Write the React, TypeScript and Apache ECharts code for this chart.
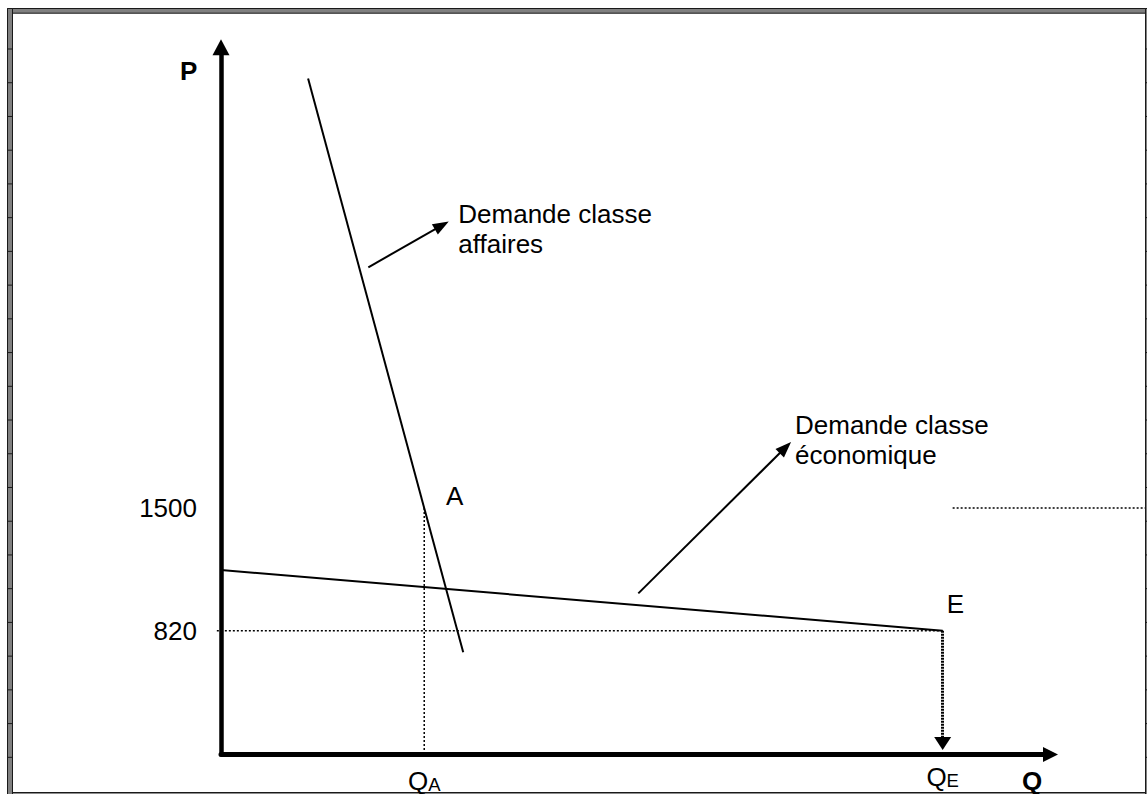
import React, { useEffect, useRef } from 'react';
import * as echarts from 'echarts';

// ---- Data (schematic units: Q on 0..100, P in price units) ----
const qTickA = [24.5]; // Q_A
const qTickE = [87]; // Q_E
const pTicks = [820, 1500];
const businessDemand = [[10.5, 3880], [29.2, 700]];
const economyDemand = [[0, 1156], [87, 820]];
const guideA = [[24.5, 1500], [24.5, 134]];
const guide820 = [[-0.5, 820], [87, 820]];
const guideRight = [[88.2, 1500], [111.4, 1500]];
const arrowBusiness = [[17.76, 2834], [26.62, 3066]];
const arrowEconomy = [[50.31, 1027], [68.04, 1835]];
const arrowE = [[87, 820], [87, 195]];
const labelBusiness = 'Demande classe\naffaires';
const labelEconomy = 'Demande classe\néconomique';

const P_MIN = 134;
const P_MAX = 4053;

const FONT = '"Liberation Sans", Arial, sans-serif';
const FS = 26;

function frameElements() {
  const els: any[] = [];
  const grey = '#808080';
  const dark = '#1a1a1a';
  els.push({ type: 'rect', shape: { x: 7.5, y: 8.5, width: 1145, height: 4.7 }, style: { fill: grey, stroke: dark, lineWidth: 1 }, silent: true });
  els.push({ type: 'rect', shape: { x: 7.5, y: 8.5, width: 5, height: 790 }, style: { fill: grey, stroke: dark, lineWidth: 1 }, silent: true });
  els.push({ type: 'rect', shape: { x: 1145.5, y: 8.5, width: 5, height: 790 }, style: { fill: grey, stroke: dark, lineWidth: 1 }, silent: true });
  els.push({ type: 'line', shape: { x1: 12.5, y1: 792.7, x2: 1145.5, y2: 792.7 }, style: { stroke: dark, lineWidth: 1.5 }, silent: true });
  for (let k = 0; k < 22; k++) {
    const y = 49 + 33.73 * k;
    els.push({ type: 'line', shape: { x1: 7.5, y1: y, x2: 12.5, y2: y }, style: { stroke: dark, lineWidth: 1 }, silent: true });
    els.push({ type: 'line', shape: { x1: 1145.5, y1: y, x2: 1147, y2: y }, style: { stroke: dark, lineWidth: 1 }, silent: true });
  }
  return els;
}

function txt(text: string, x: number, y: number, opts: any = {}) {
  return {
    type: 'text',
    x,
    y,
    silent: true,
    style: {
      text,
      fill: '#000',
      font: `${opts.bold ? 'bold ' : ''}${FS}px ${FONT}`,
      align: 'left',
      textAlign: 'left',
      verticalAlign: opts.va || 'middle',
      textVerticalAlign: opts.va || 'middle',
      lineHeight: opts.lineHeight || FS,
    },
  };
}

const dotted = { color: '#000', width: 1.5, type: [2, 2] as any };

export default function App() {
  const ref = useRef<HTMLDivElement>(null);
  useEffect(() => {
    if (!ref.current) return;
    const chart = echarts.init(ref.current, null, { renderer: 'svg' });
    const richQ = {
      q: { fontSize: FS, lineHeight: FS, fontFamily: FONT, color: '#000', verticalAlign: 'middle' },
      sA: { fontSize: 18.5, lineHeight: 11, fontFamily: FONT, color: '#000', verticalAlign: 'bottom' },
      sE: { fontSize: 18.5, lineHeight: 19, fontFamily: FONT, color: '#000', verticalAlign: 'bottom' },
    };
    const hiddenAxis = { axisLine: { show: false }, axisTick: { show: false }, axisLabel: { show: false }, splitLine: { show: false } };
    chart.setOption({
      animation: false,
      grid: [
        { left: 221, right: 96.5, top: 47.3, bottom: 39.5, containLabel: false, outerBoundsMode: 'none' },
        // same scale, wider extent: for guides that run past the axes
        { left: 200, right: 0, top: 47.3, bottom: 39.5, containLabel: false, outerBoundsMode: 'none' },
      ],
      xAxis: [
        {
          type: 'value',
          gridIndex: 0,
          min: 0,
          max: 100,
          position: 'bottom',
          axisLine: { show: true, onZero: false, symbol: ['none', 'triangle'], symbolSize: [15, 15], lineStyle: { color: '#000', width: 5, type: [2, 1] } },
          axisTick: { show: false },
          splitLine: { show: false },
          axisLabel: { customValues: qTickE, margin: 9.5, formatter: () => '{q|Q}{sE|E}', rich: richQ },
        },
        {
          type: 'value',
          gridIndex: 0,
          min: 0,
          max: 100,
          position: 'bottom',
          axisLine: { show: false },
          axisTick: { show: false },
          splitLine: { show: false },
          axisLabel: { customValues: qTickA, margin: 13, formatter: () => '{q|Q}{sA|A}', rich: richQ },
        },
        { type: 'value', gridIndex: 1, min: -2.53, max: 111.63, ...hiddenAxis },
      ],
      yAxis: [
        {
          type: 'value',
          gridIndex: 0,
          min: P_MIN,
          max: P_MAX,
          axisLine: { show: true, onZero: false, symbol: ['none', 'triangle'], symbolSize: [17, 16], lineStyle: { color: '#000', width: 4.5 } },
          axisTick: { show: false },
          splitLine: { show: false },
          axisLabel: { customValues: pTicks, margin: 24, fontSize: FS, color: '#000', fontFamily: FONT, formatter: (v: number) => String(v) },
        },
        { type: 'value', gridIndex: 1, min: P_MIN, max: P_MAX, ...hiddenAxis },
      ],
      series: [
        { name: 'Demande classe affaires', type: 'line', data: businessDemand, symbol: 'none', clip: false, lineStyle: { color: '#000', width: 2 } },
        { name: 'Demande classe économique', type: 'line', data: economyDemand, symbol: 'none', clip: false, lineStyle: { color: '#000', width: 2 } },
        { type: 'line', data: guideA, symbol: 'none', clip: false, lineStyle: dotted },
        { type: 'line', xAxisIndex: 2, yAxisIndex: 1, data: guide820, symbol: 'none', clip: false, lineStyle: dotted },
        { type: 'line', xAxisIndex: 2, yAxisIndex: 1, data: guideRight, symbol: 'none', clip: false, lineStyle: dotted },
        {
          type: 'line',
          data: [],
          markLine: {
            silent: true,
            animation: false,
            symbol: ['none', 'triangle'],
            symbolSize: [12, 16],
            label: { show: false },
            lineStyle: { color: '#000', width: 2, type: 'solid' },
            data: [
              [{ coord: arrowBusiness[0] }, { coord: arrowBusiness[1] }],
              [{ coord: arrowEconomy[0] }, { coord: arrowEconomy[1] }],
            ],
          },
        },
        {
          type: 'line',
          data: [],
          markLine: {
            silent: true,
            animation: false,
            symbol: ['none', 'triangle'],
            symbolSize: [17, 13],
            label: { show: false },
            lineStyle: { color: '#000', width: 3, type: [2, 1] },
            data: [[{ coord: arrowE[0] }, { coord: arrowE[1] }]],
          },
        },
      ],
      graphic: [
        ...frameElements(),
        txt('P', 180, 70.5, { bold: true }),
        txt('Q', 1022, 780.5, { bold: true }),
        txt('A', 446, 495.6),
        txt('E', 946.7, 604),
        txt(labelBusiness, 458.3, 199.4, { va: 'top', lineHeight: 30 }),
        txt(labelEconomy, 795, 410.4, { va: 'top', lineHeight: 30 }),
      ],
    });
    return () => chart.dispose();
  }, []);
  return <div ref={ref} style={{ position: 'fixed', left: 0, top: 0, width: 1147, height: 794, background: '#fff' }} />;
}
